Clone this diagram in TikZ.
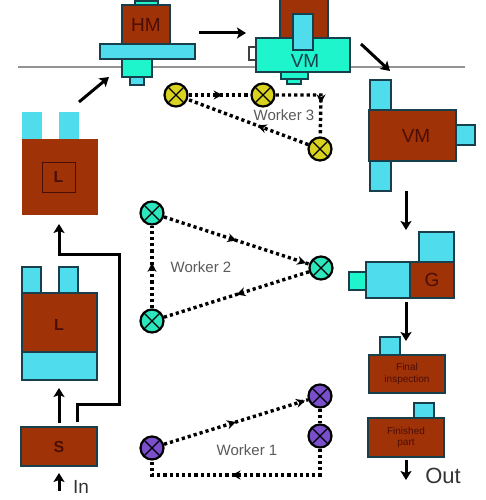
\documentclass[tikz,border=0pt]{standalone}
\usepackage{fontspec}
\setmainfont{Liberation Sans}
\usetikzlibrary{arrows.meta,decorations.markings}
\definecolor{brownbox}{HTML}{A03208}
\definecolor{cyanbox}{HTML}{4FDDEE}
\definecolor{tealbox}{HTML}{1EF5CC}
\definecolor{edgeblue}{HTML}{173F4C}
\definecolor{darktext}{HTML}{4A0E06}
\definecolor{yellowm}{HTML}{D9D21E}
\definecolor{tealm}{HTML}{2CE6BE}
\definecolor{purplem}{HTML}{7A4FCB}
\definecolor{greytext}{HTML}{5A5A5A}
\tikzset{
  brownpart/.style={draw=edgeblue,line width=1.5pt,fill=brownbox,text=darktext},
  brownflat/.style={draw=brownbox,line width=.5pt,fill=brownbox,text=darktext},
  cyanpart/.style={draw=edgeblue,line width=1.5pt,fill=cyanbox},
  cyanflat/.style={draw=cyanbox,line width=.5pt,fill=cyanbox},
  tealpart/.style={draw=edgeblue,line width=1.5pt,fill=tealbox,text=edgeblue},
  whitepart/.style={draw=darkgray,line width=1.5pt,fill=white},
  flow/.style={draw=black,line width=3pt,-{Stealth[length=9pt,width=11pt,inset=2pt]}},
  station/.style={circle,draw=black,line width=2.2pt,minimum size=23pt,inner sep=0pt,
    path picture={\draw[black,line width=1.3pt]
      (path picture bounding box.south west)--(path picture bounding box.north east)
      (path picture bounding box.north west)--(path picture bounding box.south east);}},
  walk/.style={draw=black,line width=3.4pt,dash pattern=on 3.2pt off 3pt},
  tip/.style={postaction={decorate,decoration={markings,
    mark=at position #1 with {\arrow[solid]{Stealth[length=9pt,width=9pt]}}}}},
  workerlabel/.style={font=\fontsize{15}{16}\selectfont,text=greytext},
  partlabel/.style={font=\fontsize{19}{20}\selectfont},
  smalllabel/.style={font=\fontsize{10}{11.5}\selectfont,align=center,text=darktext},
}
\newcommand{\bx}[6]{%
  \pgfmathsetmacro{\bw}{#4-#2}\pgfmathsetmacro{\bh}{#5-#3}%
  \pgfmathsetmacro{\cxx}{(#2+#4)/2}\pgfmathsetmacro{\cyy}{(#3+#5)/2}%
  \node[#6,rectangle,inner sep=0pt,minimum width=\bw pt,minimum height=\bh pt] (#1) at (\cxx,\cyy) {};}
\begin{document}
\begin{tikzpicture}[x=1pt,y=-1pt]
\useasboundingbox (0,0) rectangle (485,500);
% floor line
\coordinate (lineL) at (18,67);
\coordinate (lineR) at (465,67);
\draw[draw=gray!85,line width=2pt] (lineL) -- (lineR);

% HM
\bx{hmtop}{135}{1}{158}{6}{tealpart}
\bx{hm}{122}{5}{170}{44}{brownpart}
\bx{hmbar}{100}{44}{195}{59}{cyanpart}
\bx{hmfoot}{122}{59}{152}{77}{tealpart}
\bx{hmtoe}{130}{77}{144}{85}{cyanpart}
\node[partlabel,text=darktext] at (hm) {HM};

% VM top
\bx{vmtbrown}{280}{-3}{328}{38}{brownpart}
\bx{vmtknob}{249}{47}{256}{60}{whitepart}
\bx{vmtfoot2}{287}{79}{301}{84}{tealpart}
\bx{vmtfoot}{281}{72}{308}{79}{tealpart}
\bx{vmt}{256}{38}{350}{72}{tealpart}
\bx{vmtspindle}{293}{14}{313}{50}{cyanpart}
\node[partlabel,text=edgeblue] at (305,61) {VM};

% VM right
\bx{vmrtop}{370}{80}{391}{110}{cyanpart}
\bx{vmrbot}{370}{161}{391}{191}{cyanpart}
\bx{vmrside}{456}{125}{475}{145}{cyanpart}
\bx{vmr}{369}{110}{456}{161}{brownpart}
\node[partlabel,text=darktext] at (416,136) {VM};

% G
\bx{gtop}{419}{232}{454}{262}{cyanpart}
\bx{gnose}{349}{272}{366}{290}{tealpart}
\bx{gbody}{366}{262}{410}{298}{cyanpart}
\bx{g}{410}{262}{454}{298}{brownpart}
\node[partlabel,text=darktext] at (g) {G};

% Final inspection
\bx{fitop}{380}{337}{400}{355}{cyanpart}
\bx{fi}{369}{355}{445}{393}{brownpart}
\node[smalllabel] at (fi) {Final\\inspection};

% Finished part
\bx{fptop}{414}{403}{434}{418}{cyanpart}
\bx{fp}{368}{418}{444}{457}{brownpart}
\node[smalllabel] at (fp) {Finished\\part};

% L upper
\bx{lutl}{22}{112}{41}{139}{cyanflat}
\bx{lutr}{59}{112}{78}{139}{cyanflat}
\bx{lu}{22}{139}{97}{214}{brownflat}
\bx{luin}{42}{162}{75}{192}{draw=darktext,line width=1pt}
\node[font=\fontsize{16}{16}\selectfont\bfseries,text=darktext] at (luin) {L};

% L lower
\bx{lltl}{22}{267}{41}{293}{cyanpart}
\bx{lltr}{59}{267}{78}{293}{cyanpart}
\bx{ll}{22}{293}{97}{352}{brownpart}
\bx{llbase}{22}{352}{97}{380}{cyanpart}
\node[font=\fontsize{16}{16}\selectfont\bfseries,text=darktext] at (59,325) {L};

% S
\bx{s}{21}{427}{97}{466}{brownpart}
\node[font=\fontsize{16}{16}\selectfont\bfseries,text=darktext] at (s) {S};

% Free ends
\coordinate (hmin) at (79,102);
\coordinate (hmine) at (109,77);
\coordinate (hmout) at (199,33);
\coordinate (vmin) at (246,33);
\coordinate (vmout) at (361,44);
\coordinate (vmrin) at (390,71);
\coordinate (vmrout) at (406,191);
\coordinate (gin) at (406,230);
\coordinate (gout) at (406,302);
\coordinate (fiin) at (406,341);
\coordinate (fpout) at (406,460);
\coordinate (outend) at (406,480);
\coordinate (instart) at (59,491);
\coordinate (inend) at (59,473);
\coordinate (sout) at (59,423);
\coordinate (llin) at (59,388);
\coordinate (fb0) at (77,422);
\coordinate (fb1) at (77,404);
\coordinate (fb2) at (119,404);
\coordinate (fb3) at (119,254);
\coordinate (fb4) at (59,254);
\coordinate (fb5) at (59,224);

\draw[flow] (hmin) -- (hmine);
\draw[flow] (hmout) -- (vmin);
\draw[flow] (vmout) -- (vmrin);
\draw[flow] (vmrout) -- (gin);
\draw[flow] (gout) -- (fiin);
\draw[flow] (fpout) -- (outend);
\draw[flow] (instart) -- (inend);
\draw[flow] (sout) -- (llin);
\draw[flow,line join=miter] (fb0) -- (fb1) -- (fb2) -- (fb3) -- (fb4) -- (fb5);

\node[font=\fontsize{19}{20}\selectfont,text=black!80] at (81,487) {In};
\node[font=\fontsize{22}{22}\selectfont,text=black!80] at (443,476) {Out};

% Workers
\node[station,fill=yellowm] (w3a) at (176,95) {};
\node[station,fill=yellowm] (w3b) at (263,95) {};
\node[station,fill=yellowm] (w3c) at (320,149) {};
\coordinate (w3k) at (321,95);
\draw[walk,tip=.55] (w3a) -- (w3b);
\draw[walk,tip=.62] (w3b) -- (w3k) -- (w3c);
\draw[walk,tip=.42] (w3c) -- (w3a);
\node[workerlabel] at (284,115) {Worker 3};

\node[station,fill=tealm] (w2a) at (152,213) {};
\node[station,fill=tealm] (w2b) at (321,268) {};
\node[station,fill=tealm] (w2c) at (152,321) {};
\draw[walk,tip=.5,tip=.98] (w2a) -- (w2b);
\draw[walk,tip=.5] (w2b) -- (w2c);
\draw[walk,tip=.55] (w2c) -- (w2a);
\node[workerlabel] at (201,267) {Worker 2};

\node[station,fill=purplem] (w1a) at (152,448) {};
\node[station,fill=purplem] (w1b) at (320,396) {};
\node[station,fill=purplem] (w1c) at (320,436) {};
\coordinate (w1k) at (320,475);
\coordinate (w1l) at (152,475);
\draw[walk,tip=.5,tip=.98] (w1a) -- (w1b);
\draw[walk] (w1b) -- (w1c);
\draw[walk,tip=.55] (w1c) -- (w1k) -- (w1l) -- (w1a);
\node[workerlabel] at (247,450) {Worker 1};
\end{tikzpicture}
\end{document}
